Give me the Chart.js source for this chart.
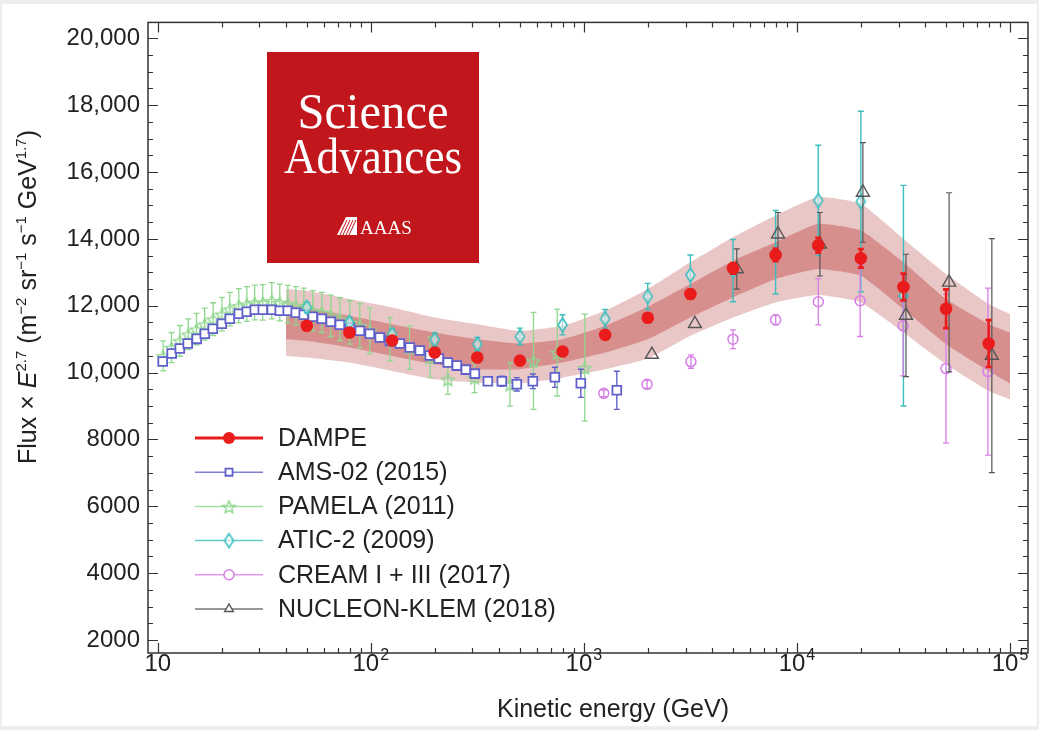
<!DOCTYPE html>
<html>
<head>
<meta charset="utf-8">
<script src="https://cdn.jsdelivr.net/npm/chart.js@4.4.0/dist/chart.umd.min.js"></script>
<style>
  html, body { margin: 0; padding: 0; background: #fff; }
  #wrap { width: 1039px; height: 730px; }
</style>
</head>
<body>
<div id="wrap"><canvas id="fluxChart" width="1039" height="730"></canvas></div>
<script>
// kinetic energy (GeV) and flux x E^2.7 (m^-2 sr^-1 s^-1 GeV^1.7)
const dampeE = [50.1, 79.4, 125.9, 199.5, 316.2, 501.2, 794.3, 1259, 1995, 3162, 5012, 7943, 12589, 19953, 31623, 50119, 79433];
const dampeFlux = [11400, 11200, 10960, 10600, 10450, 10360, 10630, 11130, 11640, 12350, 13120, 13520, 13810, 13420, 12560, 11910, 10870];
const dampeErr = [50, 50, 50, 60, 60, 70, 80, 90, 110, 130, 160, 190, 220, 280, 400, 580, 700];

// systematic bands around DAMPE
const bandE = [40, 50.1, 79.4, 125.9, 199.5, 316.2, 501.2, 794.3, 1259, 1995, 3162, 5012, 7943, 12589, 19953, 31623, 50119, 79433, 100000];
const outerHi = [12500, 12450, 12200, 11950, 11650, 11450, 11250, 11400, 11850, 12500, 13300, 14050, 14700, 15250, 15050, 14000, 12950, 12050, 11750];
const innerHi = [12000, 11950, 11700, 11450, 11200, 11000, 10870, 11000, 11400, 11970, 12650, 13350, 13900, 14450, 14250, 13300, 12200, 11450, 11200];
const innerLo = [11000, 10950, 10750, 10500, 10250, 10100, 10100, 10300, 10600, 11000, 11650, 12250, 12800, 13100, 12900, 11900, 10850, 10050, 9680];
const outerLo = [10500, 10450, 10300, 10050, 9800, 9700, 9680, 9850, 10100, 10420, 11100, 11650, 12100, 12320, 12100, 11200, 10250, 9450, 9200];

const amsE = [10.55, 11.63, 12.69, 13.83, 15.24, 16.63, 18.13, 19.98, 21.78, 24.01, 26.17, 28.54, 31.12, 34.3, 37.39, 40.76, 44.45, 48.47, 53.43, 58.88,
  64.91, 71.55, 79.7, 88.8, 98.9, 110.2, 122.8, 136.8, 152.4, 169.8, 189.2, 208.5, 229.9, 253.4, 279.3, 307.8, 354.3, 412.1, 484.6, 576.3,
  730.8, 967.8, 1428];
const amsFlux = [10330, 10570, 10720, 10870, 11010, 11160, 11310, 11460, 11610, 11760, 11820, 11880, 11880, 11880, 11850, 11850, 11790, 11730, 11670, 11610,
  11520, 11430, 11340, 11250, 11160, 11050, 10950, 10870, 10750, 10660, 10510, 10420, 10300, 10210, 10090, 9970, 9740, 9740, 9650, 9740,
  9860, 9680, 9470];
const amsErr = [50, 50, 50, 50, 50, 50, 50, 50, 50, 50, 50, 50, 50, 50, 50, 50, 50, 50, 50, 50,
  50, 50, 50, 50, 50, 50, 50, 50, 50, 50, 50, 50, 50, 50, 50, 50, 120, 150, 200, 220,
  300, 420, 570];

const pamE = [10.6, 11.6, 12.7, 13.9, 15.2, 16.6, 18.2, 20.0, 21.8, 24.0, 26.2, 28.5, 31.1, 34.3, 37.4, 40.8, 44.5, 48.5, 53.4, 58.9,
  64.9, 71.6, 79.7, 88.8, 99, 123, 152, 190, 230, 307, 450, 580, 750, 1010];
const pamFlux = [10500, 10750, 10950, 11150, 11300, 11450, 11600, 11750, 11900, 12000, 12050, 12100, 12100, 12150, 12100, 12050, 12000, 11950, 11850, 11800,
  11700, 11600, 11500, 11400, 11250, 11000, 10750, 10450, 9800, 9850, 9650, 10350, 10600, 10150];
const pamErr = [450, 450, 460, 460, 470, 480, 490, 500, 500, 510, 520, 520, 530, 540, 550, 560, 570, 580, 600, 600,
  620, 640, 650, 660, 680, 650, 650, 600, 450, 450, 650, 1450, 1300, 1600];

const aticE = [50.1, 79.4, 125.9, 199.5, 316.2, 501.2, 794.3, 1259, 1995, 3162, 5012, 7943, 12589, 19953, 31623];
const aticFlux = [11950, 11500, 11150, 10990, 10850, 11080, 11430, 11610, 12280, 12920, 13050, 13600, 15150, 15120, 12300];
const aticErr = [150, 150, 150, 200, 200, 250, 300, 280, 390, 600, 930, 1250, 1650, 2700, 3300];

const creamE = [1240, 1980, 3180, 5010, 7950, 12600, 19800, 31500, 50100, 78800];
const creamFlux = [9380, 9650, 10330, 11000, 11580, 12120, 12150, 11400, 10120, 10030];
const creamErr = [100, 120, 200, 280, 150, 690, 1070, 1500, 2230, 2500];

const nucE = [2085, 3320, 5220, 8150, 12820, 20400, 32500, 51800, 82200];
const nucFlux = [10540, 11460, 13100, 14140, 13840, 15390, 11710, 12700, 10510];
const nucErr = [0, 0, 600, 650, 950, 1490, 1830, 2680, 3500];

// axis ticks
const yTicks = [2000, 4000, 6000, 8000, 10000, 12000, 14000, 16000, 18000, 20000];
const yMinorStep = 500;
const xDecades = [10, 100, 1000, 10000, 100000];
const xDecadeExp = ['', '2', '3', '4', '5'];
const xMinorMult = [2, 3, 4, 5, 6, 7, 8, 9];

const red = '#ea1b1b';
const amsColor = '#6060cc';
const pamColor = '#8fd68f';
const aticColor = '#3dbdbd';
const creamColor = '#d77ee6';
const nucColor = '#555555';

const FONT = "'Liberation Sans', Arial, sans-serif";
Chart.defaults.font.family = FONT;
Chart.defaults.color = '#222';

function toPoints(xs, ys, errs) {
    return xs.map((x, i) => ({ x: x, y: ys[i], err: errs ? errs[i] : 0 }));
}

function starImage(color, r) {
    const c = document.createElement('canvas');
    const s = Math.ceil(r * 2 + 4);
    c.width = s; c.height = s;
    const g = c.getContext('2d');
    g.translate(s / 2, s / 2 + 1);
    g.beginPath();
    for (let k = 0; k < 10; k++) {
        const rr = k % 2 ? r * 0.45 : r;
        const a = -Math.PI / 2 + k * Math.PI / 5;
        g.lineTo(rr * Math.cos(a), rr * Math.sin(a));
    }
    g.closePath();
    g.strokeStyle = color;
    g.lineWidth = 1.4;
    g.stroke();
    return c;
}

function diamondImage(color, w, h) {
    const c = document.createElement('canvas');
    c.width = w + 4; c.height = h + 4;
    const g = c.getContext('2d');
    const cx = c.width / 2, cy = c.height / 2;
    g.beginPath();
    g.moveTo(cx, cy - h / 2);
    g.lineTo(cx + w / 2, cy);
    g.lineTo(cx, cy + h / 2);
    g.lineTo(cx - w / 2, cy);
    g.closePath();
    g.fillStyle = 'rgba(255,255,255,0.5)';
    g.fill();
    g.strokeStyle = color;
    g.lineWidth = 1.6;
    g.stroke();
    return c;
}

const starImg = starImage(pamColor, 6.5);
const diamondImg = diamondImage(aticColor, 9, 14);

function markerSet(label, pts, color, style, radius, fillColor, borderWidth, order, row, errWidth) {
    return {
        label: label,
        data: pts,
        showLine: false,
        pointStyle: style,
        pointRadius: radius,
        pointHoverRadius: radius,
        pointBackgroundColor: fillColor,
        pointBorderColor: color,
        pointBorderWidth: borderWidth,
        borderColor: color,
        backgroundColor: color,
        errColor: color,
        errWidth: errWidth,
        legendRow: row,
        order: order
    };
}

function bandSet(values, fill, color, order) {
    return {
        data: bandE.map((e, i) => ({ x: e, y: values[i] })),
        showLine: true,
        borderWidth: 0,
        borderColor: 'rgba(0,0,0,0)',
        pointRadius: 0,
        tension: 0.15,
        fill: fill,
        backgroundColor: color,
        order: order
    };
}

const datasets = [
    markerSet('DAMPE', toPoints(dampeE, dampeFlux, dampeErr), red, 'circle', 6.3, red, 0, 0, 0, 2.6),
    markerSet('AMS-02 (2015)', toPoints(amsE, amsFlux, amsErr), amsColor, 'rect', 6.2, '#ffffff', 1.8, 5, 1, 1.4),
    markerSet('PAMELA (2011)', toPoints(pamE, pamFlux, pamErr), pamColor, starImg, 6, pamColor, 0, 6, 2, 1.3),
    markerSet('ATIC-2 (2009)', toPoints(aticE, aticFlux, aticErr), aticColor, diamondImg, 7, aticColor, 0, 3, 3, 1.4),
    markerSet('CREAM I + III (2017)', toPoints(creamE, creamFlux, creamErr), creamColor, 'circle', 5, 'rgba(255,255,255,0)', 1.5, 2, 4, 1.3),
    markerSet('NUCLEON-KLEM (2018)', toPoints(nucE, nucFlux, nucErr), nucColor, 'triangle', 7.5, 'rgba(255,255,255,0)', 1.4, 1, 5, 1.2),
    bandSet(outerHi, '+1', 'rgb(232,199,198)', 21),
    bandSet(outerLo, false, 'rgb(232,199,198)', 20),
    bandSet(innerHi, '+1', 'rgb(215,143,142)', 16),
    bandSet(innerLo, false, 'rgb(215,143,142)', 15)
];

// vertical error bars, drawn just before each dataset's markers
const errorBars = {
    id: 'errorBars',
    beforeDatasetDraw(chart, args) {
        const ds = chart.data.datasets[args.index];
        if (!ds.errColor) return;
        const y = chart.scales.y;
        const ctx = chart.ctx;
        ctx.save();
        ctx.strokeStyle = ds.errColor;
        ctx.lineWidth = ds.errWidth;
        args.meta.data.forEach((pt, j) => {
            const d = ds.data[j];
            if (!d.err) return;
            const top = y.getPixelForValue(d.y + d.err);
            const bot = y.getPixelForValue(d.y - d.err);
            ctx.beginPath();
            ctx.moveTo(pt.x, top); ctx.lineTo(pt.x, bot);
            ctx.moveTo(pt.x - 3, top); ctx.lineTo(pt.x + 3, top);
            ctx.moveTo(pt.x - 3, bot); ctx.lineTo(pt.x + 3, bot);
            ctx.stroke();
        });
        ctx.restore();
    }
};

// page border
const background = {
    id: 'background',
    beforeDraw(chart) {
        const ctx = chart.ctx;
        ctx.save();
        ctx.fillStyle = '#eeeeee';
        ctx.fillRect(0, 0, chart.width, chart.height);
        ctx.fillStyle = '#ffffff';
        ctx.fillRect(2, 4, chart.width - 4, chart.height - 8);
        ctx.restore();
    }
};

// boxed frame with inward ticks, x labels in powers of ten, y title, legend, journal badge
const decorations = {
    id: 'decorations',
    afterDraw(chart) {
        const ctx = chart.ctx;
        const { left, right, top, bottom } = chart.chartArea;
        const xs = chart.scales.x, ys = chart.scales.y;
        ctx.save();

        ctx.strokeStyle = '#333';
        ctx.lineWidth = 1.5;
        ctx.strokeRect(left, top, right - left, bottom - top);

        ctx.lineWidth = 1.2;
        ctx.beginPath();
        for (let v = yTicks[0]; v <= yTicks[yTicks.length - 1]; v += yMinorStep) {
            const p = Math.round(ys.getPixelForValue(v)) + 0.5;
            const len = yTicks.includes(v) ? 10 : 5;
            ctx.moveTo(left, p); ctx.lineTo(left + len, p);
            ctx.moveTo(right, p); ctx.lineTo(right - len, p);
        }
        xDecades.forEach((d) => {
            const p = Math.round(xs.getPixelForValue(d)) + 0.5;
            ctx.moveTo(p, bottom); ctx.lineTo(p, bottom - 10);
            ctx.moveTo(p, top); ctx.lineTo(p, top + 10);
            if (d < 100000) {
                xMinorMult.forEach((m) => {
                    const q = Math.round(xs.getPixelForValue(d * m)) + 0.5;
                    ctx.moveTo(q, bottom); ctx.lineTo(q, bottom - 5);
                    ctx.moveTo(q, top); ctx.lineTo(q, top + 5);
                });
            }
        });
        ctx.stroke();

        // x tick labels
        ctx.fillStyle = '#222';
        ctx.textBaseline = 'alphabetic';
        xDecades.forEach((d, i) => {
            const p = xs.getPixelForValue(d);
            ctx.font = '24px ' + FONT;
            const wBase = ctx.measureText('10').width;
            ctx.font = '16px ' + FONT;
            const wExp = xDecadeExp[i] ? ctx.measureText(xDecadeExp[i]).width + 1 : 0;
            const x0 = p - (wBase + wExp) / 2;
            ctx.font = '24px ' + FONT;
            ctx.textAlign = 'left';
            ctx.fillText('10', x0, 671);
            if (wExp) {
                ctx.font = '16px ' + FONT;
                ctx.fillText(xDecadeExp[i], x0 + wBase + 1, 660);
            }
        });

        // x title
        ctx.font = '25px ' + FONT;
        ctx.textAlign = 'center';
        ctx.fillText('Kinetic energy (GeV)', 613, 717);

        // y title with superscripts
        const parts = [
            ['Flux \u00d7 ', 'n'], ['E', 'i'], ['2.7', 's'], [' (m', 'n'], ['\u22122', 's'], [' sr', 'n'],
            ['\u22121', 's'], [' s', 'n'], ['\u22121', 's'], [' GeV', 'n'], ['1.7', 's'], [')', 'n']
        ];
        const fontOf = (k) => k === 's' ? '15px ' + FONT : (k === 'i' ? 'italic 25px ' + FONT : '25px ' + FONT);
        let total = 0;
        parts.forEach(([t, k]) => { ctx.font = fontOf(k); total += ctx.measureText(t).width; });
        ctx.save();
        ctx.translate(36, 297);
        ctx.rotate(-Math.PI / 2);
        ctx.textAlign = 'left';
        let cx = -total / 2;
        parts.forEach(([t, k]) => {
            ctx.font = fontOf(k);
            ctx.fillText(t, cx, k === 's' ? -10 : 0);
            cx += ctx.measureText(t).width;
        });
        ctx.restore();

        // legend
        ctx.textAlign = 'left';
        ctx.textBaseline = 'middle';
        chart.data.datasets.forEach((ds) => {
            if (ds.legendRow === undefined) return;
            const y = 438 + ds.legendRow * 34.2;
            ctx.strokeStyle = ds.borderColor;
            ctx.lineWidth = ds.legendRow === 0 ? 3.2 : 1.5;
            ctx.globalAlpha = ds.legendRow === 0 ? 1 : 0.8;
            ctx.beginPath();
            ctx.moveTo(195, y); ctx.lineTo(263, y);
            ctx.stroke();
            ctx.globalAlpha = 1;
            ctx.fillStyle = ds.pointBackgroundColor === 'rgba(255,255,255,0)' ? '#fff' : ds.pointBackgroundColor;
            ctx.strokeStyle = ds.pointBorderColor;
            ctx.lineWidth = ds.pointBorderWidth || 1;
            const r = ds.legendRow === 0 ? 6 : 5;
            Chart.helpers.drawPoint(ctx, { pointStyle: ds.pointStyle, radius: r, rotation: 0, borderWidth: ds.pointBorderWidth }, 229, y);
            ctx.fillStyle = '#222';
            ctx.font = '25px ' + FONT;
            ctx.fillText(ds.label, 278, y + 1);
        });

        // journal badge
        ctx.fillStyle = '#c1161c';
        ctx.fillRect(267, 52, 212, 211);
        ctx.fillStyle = '#ffffff';
        ctx.textAlign = 'center';
        ctx.textBaseline = 'alphabetic';
        const serif = "'Liberation Serif', 'DejaVu Serif', serif";
        [['Science', 128, 151], ['Advances', 173, 178]].forEach(([t, by, w]) => {
            ctx.font = '50px ' + serif;
            const mw = ctx.measureText(t).width;
            ctx.save();
            ctx.translate(373, by);
            ctx.scale(w / mw, 1);
            ctx.fillText(t, 0, 0);
            ctx.restore();
        });
        ctx.font = '19px ' + serif;
        ctx.textAlign = 'left';
        ctx.fillText('AAAS', 360, 234);
        ctx.beginPath();
        ctx.moveTo(337, 235); ctx.lineTo(346, 217); ctx.lineTo(357, 217); ctx.lineTo(357, 235);
        ctx.closePath();
        ctx.fill();
        ctx.strokeStyle = '#c1161c';
        ctx.lineWidth = 1;
        ctx.beginPath();
        for (let k = 0; k < 4; k++) {
            ctx.moveTo(340 + k * 3, 235); ctx.lineTo(347 + k * 3, 220);
        }
        ctx.stroke();

        ctx.restore();
    }
};

const fluxChart = new Chart(document.getElementById('fluxChart').getContext('2d'), {
    type: 'line',
    data: { datasets: datasets },
    options: {
        responsive: false,
        animation: false,
        layout: { padding: { left: 48, right: 11, top: 19, bottom: 0 } },
        plugins: {
            legend: { display: false },
            tooltip: { enabled: false }
        },
        scales: {
            x: {
                type: 'logarithmic',
                min: 9,
                max: 121500,
                grid: { display: false, drawTicks: false },
                border: { display: false },
                ticks: { display: false },
                afterFit: (scale) => { scale.height = 77; }
            },
            y: {
                type: 'linear',
                min: 1613,
                max: 20476,
                grid: { display: false, drawTicks: false },
                border: { display: false },
                afterBuildTicks: (scale) => { scale.ticks = yTicks.map((v) => ({ value: v })); },
                afterFit: (scale) => { scale.width = 100; },
                ticks: {
                    padding: 8,
                    font: { size: 24 },
                    color: '#222',
                    callback: (v) => v >= 10000 ? String(v).replace(/\B(?=(\d{3})+(?!\d))/g, ',') : String(v)
                }
            }
        }
    },
    plugins: [background, errorBars, decorations]
});
</script>
</body>
</html>
